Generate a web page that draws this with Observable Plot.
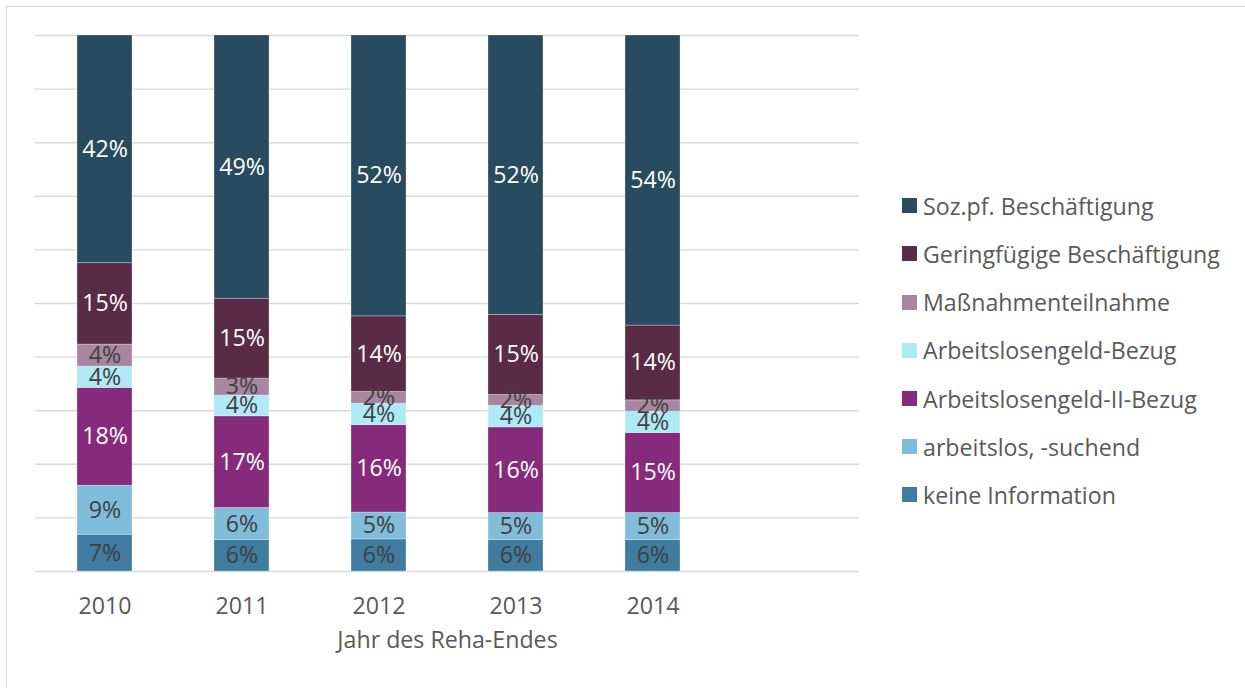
<!DOCTYPE html>
<html>
<head>
<meta charset="utf-8">
<script src="https://cdn.jsdelivr.net/npm/d3@7"></script>
<script src="https://cdn.jsdelivr.net/npm/@observablehq/plot@0.6"></script>
<style>
  html, body { margin: 0; padding: 0; background: #fff; overflow: hidden; }
  #wrap { position: relative; width: 1245px; height: 688px; font-family: "Open Sans", sans-serif; }
  #frame { position: absolute; left: 6px; top: 6px; width: 1300px; height: 700px;
           border-left: 1.5px solid #d9d9d9; border-top: 1.5px solid #d9d9d9; }
  #chart { position: absolute; left: 0; top: 0; }
  #legend { position: absolute; left: 902px; top: 0; }
  .row { position: absolute; left: 0; display: flex; align-items: center; white-space: nowrap;
         font-size: 23.2px; color: #595959; height: 30px; }
  .sw { width: 15px; height: 15px; margin-right: 6px; flex: none; }
</style>
</head>
<body>
<div id="wrap">
  <div id="frame"></div>
  <div id="chart"></div>
  <div id="legend"></div>
</div>
<script>
const years = ["2010", "2011", "2012", "2013", "2014"];
const categories = [
  "keine Information",
  "arbeitslos, -suchend",
  "Arbeitslosengeld-II-Bezug",
  "Arbeitslosengeld-Bezug",
  "Maßnahmenteilnahme",
  "Geringfügige Beschäftigung",
  "Soz.pf. Beschäftigung"
];
const colors = ["#3f7ca0", "#7fbddb", "#862a7b", "#aeeaf5", "#a885a0", "#5a2b46", "#284b60"];
const lightText = ["Arbeitslosengeld-II-Bezug", "Geringfügige Beschäftigung", "Soz.pf. Beschäftigung"];

const keineInformation      = [6.85, 5.86, 6.0, 5.86, 5.86];
const arbeitslosSuchend     = [9.15, 5.98, 5.0, 5.04, 5.04];
const algIIBezug            = [18.25, 17.11, 16.3, 15.99, 14.94];
const algBezug              = [3.98, 3.87, 4.0, 4.0, 3.98];
const massnahmenteilnahme   = [4.11, 3.18, 2.2, 2.05, 2.11];
const geringfuegig          = [15.18, 14.89, 14.1, 14.94, 13.95];
const sozpfBeschaeftigung   = [42.48, 49.11, 52.4, 52.12, 54.12];

const xTitle = "Jahr des Reha-Endes";
const yTicks = [0, 10, 20, 30, 40, 50, 60, 70, 80, 90, 100];

const seriesValues = [keineInformation, arbeitslosSuchend, algIIBezug, algBezug,
                      massnahmenteilnahme, geringfuegig, sozpfBeschaeftigung];
const data = [];
categories.forEach((c, i) => years.forEach((y, j) => data.push({year: y, cat: c, value: seriesValues[i][j]})));

const fmt = d => Math.round(d.value) + "%";
const FS = 23.2;

const chart = Plot.plot({
  width: 1245,
  height: 688,
  marginLeft: 35,
  marginRight: 386,
  marginTop: 35,
  marginBottom: 117,
  style: {fontFamily: "Open Sans, sans-serif", background: "transparent"},
  x: {domain: [...years, ""], paddingInner: 0.6, paddingOuter: 0.3, axis: null},
  y: {domain: [0, 100], axis: null},
  color: {domain: categories, range: colors},
  marks: [
    Plot.gridY(yTicks, {stroke: "#d9d9d9", strokeOpacity: 1, strokeWidth: 1.4}),
    Plot.barY(data, {x: "year", y: "value", fill: "cat", z: "cat", order: categories,
                     stroke: "white", strokeOpacity: 0.35, strokeWidth: 0.8}),
    Plot.text(data, Plot.stackY({x: "year", y: "value", z: "cat", order: categories,
      text: d => lightText.includes(d.cat) ? fmt(d) : "", fill: "white", fontSize: FS})),
    Plot.text(data, Plot.stackY({x: "year", y: "value", z: "cat", order: categories,
      text: d => lightText.includes(d.cat) ? "" : fmt(d), fill: "#404040", fontSize: FS})),
    Plot.axisX(years, {tickSize: 0, tickPadding: 26, fontSize: FS, fill: "#595959", label: null}),
    Plot.text([xTitle], {frameAnchor: "bottom", dy: 76, fontSize: FS, fill: "#595959"})
  ]
});
document.getElementById("chart").appendChild(chart);

const legend = document.getElementById("legend");
const legendOrder = categories.slice().reverse();
const legendColors = colors.slice().reverse();
legendOrder.forEach((c, i) => {
  const row = document.createElement("div");
  row.className = "row";
  row.style.top = (205.7 + i * 48.2 - 15) + "px";
  const sw = document.createElement("span");
  sw.className = "sw";
  sw.style.background = legendColors[i];
  const t = document.createElement("span");
  t.textContent = c;
  row.appendChild(sw);
  row.appendChild(t);
  legend.appendChild(row);
});
</script>
</body>
</html>
